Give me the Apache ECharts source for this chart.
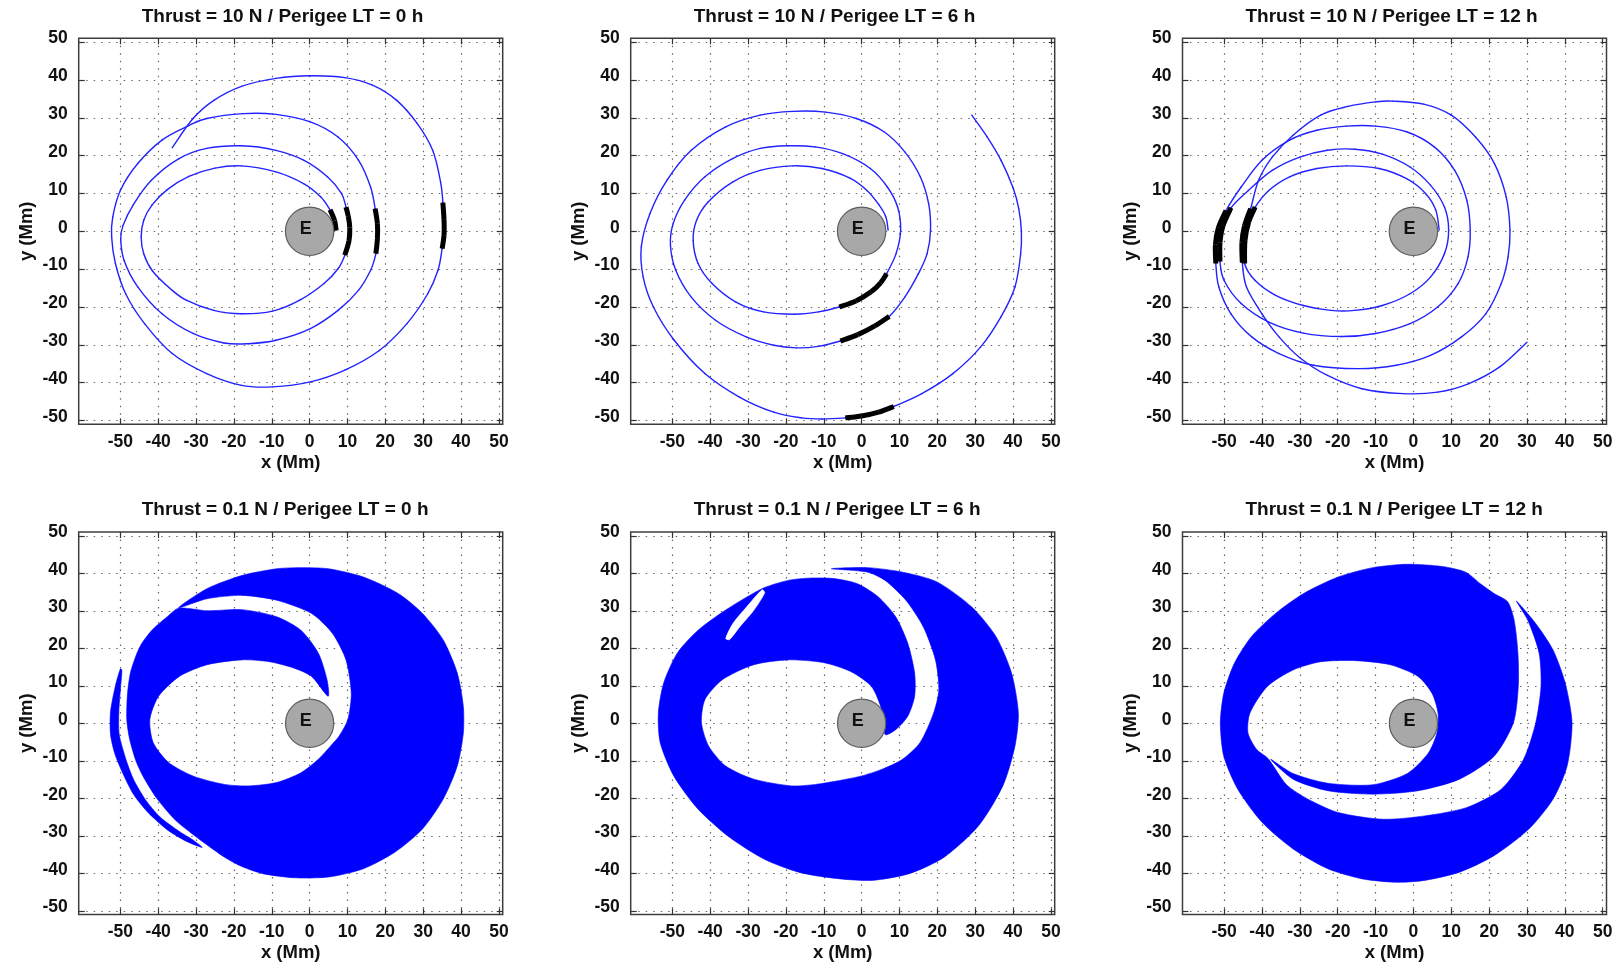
<!DOCTYPE html>
<html>
<head>
<meta charset="utf-8">
<script src="https://cdn.jsdelivr.net/npm/echarts@6/dist/echarts.min.js"></script>
<style>html,body{margin:0;padding:0;background:#fff}#chart{width:1621px;height:968px}</style>
</head>
<body>
<div id="chart"></div>
<script>
// ---------- axes ----------
const xTicks = [-50, -40, -30, -20, -10, 0, 10, 20, 30, 40, 50];
const yTicks = [-50, -40, -30, -20, -10, 0, 10, 20, 30, 40, 50];
const xRange = [-61, 51];
const yRange = [-51, 51];
const earthCenter = [0, 0];
const earthRadius = 6.4;

const titles = [
  'Thrust = 10 N / Perigee LT = 0 h',
  'Thrust = 10 N / Perigee LT = 6 h',
  'Thrust = 10 N / Perigee LT = 12 h',
  'Thrust = 0.1 N / Perigee LT = 0 h',
  'Thrust = 0.1 N / Perigee LT = 6 h',
  'Thrust = 0.1 N / Perigee LT = 12 h'
];

// ---------- 10 N trajectories (Mm) ----------
const traj10_0 = [[5.4,5.7],[2.9,9.1],[-1.6,12.6],[-8.9,15.7],[-18,17.3],[-25,16.7],[-31.9,14.5],[-37.6,11],[-41.6,7],[-43.8,3],[-44.5,-1.5],[-43.8,-6],[-41.5,-10.5],[-37,-15],[-32.6,-18.2],[-25.3,-20.9],[-18,-21.8],[-9.8,-21.1],[-2.6,-18.2],[3.8,-13.8],[7.5,-9.9],[9.3,-6.3],
  [10.4,-2.5],[10.6,1],[10.2,4],[9.6,6.4],
  [8.4,10],[4.7,14.4],[-1.6,18.8],[-8.9,21.4],[-18,22.6],[-27.2,21.9],[-34.5,19.2],[-41.8,13.5],[-46.6,7],[-49.3,1.5],[-49.9,-2],[-49,-7.7],[-45.4,-14.7],[-39,-21.8],[-30.8,-27],[-22.6,-29.5],[-16.2,-29.7],[-8.9,-28.8],[0.2,-25.7],[7.5,-20.9],[12.9,-15.6],[16.1,-10.3],[17.5,-5.9],
  [17.9,-2],[17.9,2],[17.3,6],
  [16.1,11.7],[12.9,18.8],[7.5,24.9],[0.2,28.9],[-8.9,30.9],[-17.6,31.1],[-27.2,29.8],[-32.2,27.8],[-39,24.1],[-45.4,17.9],[-50,10.8],[-52,3.8],[-52.3,-1.5],[-51.3,-8.5],[-48.6,-16.5],[-43.6,-24.4],[-36.3,-32.3],[-27.2,-37.6],[-18,-40.7],[-9.8,-41.1],[0.2,-39.8],[9.3,-36.7],[18.4,-31.5],[25.7,-24.4],[31.2,-16.5],[33.9,-10.3],[35,-4.6],
  [35.5,-1],[35.5,3],[35.2,7.6],
  [34.6,13],[32.5,21.4],[28.4,28.5],[23,34.6],[16.6,38.6],[9.3,40.6],[0.2,41.1],[-8.9,40.4],[-18,38.3],[-25.3,34.6],[-30.8,29.8],[-36.3,22.1]];
const burns10_0 = [
  [[7,0.2],[6.6,2.8],[5.4,5.7]],
  [[9.3,-6.3],[10.4,-2.5],[10.6,1],[10.2,4],[9.6,6.4]],
  [[17.5,-5.9],[17.9,-2],[17.9,2],[17.3,6]],
  [[35,-4.6],[35.5,-1],[35.5,3],[35.2,7.6]]
];

const traj10_6 = [[7,0.3],[6.4,3.8],[4.5,7.1],[1.4,10.8],[-3.2,14.1],[-10.5,16.6],[-18.2,17.3],[-26.8,16.1],[-34.1,13],[-40.5,7.8],[-43.6,2.9],[-44.5,-2.4],[-43.2,-8.5],[-39.5,-13.8],[-33.2,-18.7],[-25.9,-21.3],[-17.7,-21.9],[-11.4,-21.3],[-5.9,-20],
  [-1.5,-18.4],[2.5,-16],[5,-13.6],[6.6,-11.2],
  [9.1,-5.9],[10.3,0.3],[9.5,6.4],[6.8,11.7],[2.3,16.6],[-5,20.5],[-12.3,22.3],[-19.5,22.6],[-26.8,21.9],[-34.1,19.2],[-41.4,14.4],[-46.8,8.2],[-49.8,2],[-50.5,-3.7],[-49.1,-10.3],[-45,-17.4],[-38.6,-23.5],[-30.5,-27.9],[-23.2,-30.1],[-17.3,-30.8],[-11.4,-30.4],[-5.6,-29],
  [-1,-27.3],[3.5,-25],[7.3,-22.5],
  [11.4,-17.4],[15,-11.2],[17.3,-5.9],[18.2,0.3],[17.7,7.3],[15.5,14.4],[11.4,21],[5.9,26.3],[-1.4,29.8],[-9.5,31.5],[-18.2,31.7],[-26.8,30.7],[-35.9,27.6],[-45,21.4],[-51.4,13.5],[-55.9,4.7],[-58.2,-4.1],[-57.7,-12.1],[-55,-20],[-49.5,-28.8],[-41.4,-37.6],[-32.3,-43.8],[-23.2,-47.8],[-15.9,-49.3],[-10.5,-49.6],[-4.3,-49.3],
  [0,-48.8],[4.5,-47.8],[8.5,-46.3],
  [15.9,-42.9],[24.1,-37.6],[31.4,-30.6],[36.8,-22.6],[40.5,-14.7],[42,-6],[42.2,0],[41.5,6],[40,11.5],[36.8,18.8],[33.2,24.9],[29.1,30.7]];
const burns10_6 = [
  [[-5.9,-20],[-1.5,-18.4],[2.5,-16],[5,-13.6],[6.6,-11.2]],
  [[-5.6,-29],[-1,-27.3],[3.5,-25],[7.3,-22.5]],
  [[-4.3,-49.3],[0,-48.8],[4.5,-47.8],[8.5,-46.3]]
];

const traj10_12 = [[6.8,0.3],[5.9,5.6],[3.2,10],[-1.8,13.9],[-9.1,16.6],[-17.7,17.3],[-25.5,16.6],[-32.7,14.4],[-38.2,10.8],[-41.8,6.4],
  [-43.5,2.5],[-44.5,-2.5],[-44.6,-8.5],
  [-41.8,-13],[-36.4,-16.9],[-29.1,-19.6],[-21.8,-20.9],[-15.5,-20.9],[-8.2,-19.6],[-0.9,-16.5],[4.5,-12.1],[8.2,-5.9],[9.3,0.3],[8.2,6.4],[4.5,12.2],[-0.9,17],[-8.2,20.4],[-15.5,21.7],[-22.7,21.4],[-30,19.6],[-37.3,16.1],[-43.6,10.8],[-48.2,6.2],
  [-50.3,1.5],[-51.1,-3],[-51.1,-8],
  [-50,-13],[-45.5,-19.1],[-38.2,-24],[-29.1,-26.9],[-19.1,-27.8],[-10,-27],[-0.9,-24.4],[6.4,-20],[11.8,-13.8],[14.4,-6.8],[15,0.3],[14.1,8.2],[10.9,16.1],[5.5,22.3],[-1.8,26.3],[-10,27.8],[-17.7,27.8],[-25.5,26.7],[-32.7,24.1],[-40,18.8],[-45.5,11.7],[-49.5,5.5],
  [-51.5,1],[-52.3,-3.5],[-52.2,-8.5],
  [-51.4,-14.7],[-48.2,-21.8],[-42.7,-27.9],[-35.5,-32.3],[-26.4,-35.4],[-14.5,-36.3],[-4.5,-35.4],[4.5,-32.8],[12.7,-27.9],[19.1,-21.8],[23.2,-13.8],[25,-6.8],[25.5,0.3],[24.5,9.1],[21.4,17.9],[16.4,24.9],[10,30.7],[2.7,33.6],[-5.5,34.4],[-10,34.2],[-17.3,33],[-24.5,30.7],[-31.8,25.4],[-37.3,19.6],[-40.9,13.5],[-43,6],
  [-44.6,1.5],[-45.3,-3],[-45.2,-8.3],
  [-44.1,-14.7],[-40,-21.8],[-35.5,-27.9],[-30,-33.4],[-22.7,-38.1],[-13.6,-41.6],[-2.7,-42.9],[6.4,-42.5],[14.5,-40.3],[22.7,-35.9],[30,-29.3]];
const burns10_12 = [
  [[-41.8,6.4],[-43.5,2.5],[-44.5,-2.5],[-44.6,-8.5]],
  [[-48.2,6.2],[-50.3,1.5],[-51.1,-3],[-51.1,-8]],
  [[-49.5,5.5],[-51.5,1],[-52.3,-3.5],[-52.2,-8.5]],
  [[-43,6],[-44.6,1.5],[-45.3,-3],[-45.2,-8.3]]
];

// ---------- 0.1 N swept regions (outline points, Mm) ----------
const fill01_0 = [[-34.6,30.8],[-27.1,35.9],[-17.9,39.4],[-8.7,41.2],[-2.3,41.5],[5,41.2],[14.2,39],[23.4,34.6],[29.8,29.3],[35.3,22.2],[39,13.4],[40.6,4.5],[40.6,-2.6],[39,-11.4],[35.3,-20.2],[29.8,-28.2],[22.5,-34.4],[14.2,-38.8],[5,-41],[-4.1,-41.2],[-12.4,-40.1],[-17.9,-38.2],[-22.5,-35.7],[-27,-32.5],[-31,-29.5],[-35.5,-25.8],[-40.4,-20],[-43.8,-14.5],[-45.9,-10],[-47.6,-4],[-48.3,1],[-48.1,8],[-47.2,14],[-44.8,20.5],[-41.5,25],[-37.5,28.5],[-34.6,30.7],
  [-27.1,30],[-17.9,30.3],[-8.7,28.4],[-2.3,24.8],[2.3,18.7],[4.6,11.6],[4.9,7.2],
  [0.5,12.5],[-4.1,14.7],[-10.6,16.4],[-17.9,16.9],[-27.1,15.6],[-34.4,12.5],[-39.9,7.2],[-42.2,1],[-41.3,-5.2],[-37.2,-10.5],[-30.7,-14.1],[-22.5,-16.3],[-16.1,-16.7],[-8.7,-15.8],[-2.3,-13.2],[2.3,-9.6],[5.5,-6.1],
  [7.8,-3.4],[10.1,1],[11,8],[9.6,16.9],[6,24],[0.5,29.3],[-8.7,32.8],[-17.9,34.1],[-27.1,33.2]];
const sliver01_0 = [[-50,14.5],[-51.3,10],[-52.6,3],[-52.6,-3],[-51.5,-8],[-49.5,-13],[-46.5,-19],[-42.5,-24],[-37.5,-28.5],[-32.5,-31.5],[-28.4,-33.1],
  [-31,-31],[-34.5,-28.8],[-39.5,-25],[-43.3,-20.5],[-46.5,-15],[-48.4,-10],[-50.3,-3],[-50.4,3],[-49.9,10],[-49.6,14.2]];

const fill01_6 = [[-8,41.2],[1.6,41.5],[10.8,40.3],[19.9,37.7],[29.1,31],[35.5,23.1],[39.6,13.4],[41.4,2.7],[40.5,-6.1],[37.3,-16.7],[30.9,-27.3],[21.8,-35.7],[12.6,-40.1],[2.6,-41.9],[-7.5,-41.3],[-16.7,-39.7],[-25.8,-36.2],[-34.9,-30.4],[-43.2,-22.9],[-49.6,-14.1],[-53.2,-5.2],[-53.7,2.7],[-52.3,10.7],[-48.7,18.7],[-43.2,24.8],[-35.9,30.2],[-26.3,35.9],[-19.4,38.1],[-13.9,38.7],
  [-7.5,38.6],[-1.1,37.2],[4.4,33.7],[9,28.4],[12.2,21.3],[14,13.4],[14,7.2],[12.2,1.9],[9,-1.7],[6.2,-3],
  [5.3,3.6],[2.6,9.8],[-2.9,13.8],[-10.2,16.2],[-19.4,16.9],[-28.5,15.6],[-36.8,11.6],[-41.4,6.3],[-42.3,0.1],[-40.4,-6.1],[-35.9,-11.4],[-28.5,-14.9],[-18.5,-16.7],[-12.1,-16.3],[-6.6,-15.4],
  [-0.2,-14.1],[5.3,-12.3],[10.8,-9.6],[15.4,-5.2],[19,2.7],[20.4,8.9],[19.5,16.9],[16.3,25.7],[11.7,32.8],[6.2,38.1],[1.6,40.3]];
const gap01_6 = [[-26.3,35.6],[-30.4,31],[-34,26.6],[-35.9,22.6],[-34.9,22.3],[-32.2,25.7],[-28.5,30.1],[-25.6,34.8]];

const fill01_12 = [[27.2,32.6],[32.3,26.6],[36.9,19.5],[40.1,10.7],[41.9,0.1],[40.6,-11.4],[36.9,-20.2],[30.5,-28.2],[21.3,-35.3],[12.2,-39.7],[3,-41.9],[-4.3,-42.4],[-13.5,-41.5],[-22.6,-38.8],[-31.8,-33.5],[-40,-26.4],[-46.4,-17.6],[-50.1,-8.8],[-51,0.1],[-50.1,8],[-47.3,16],[-42.8,23.1],[-36.4,29.3],[-29,34.6],[-19.9,39],[-10.7,41.5],[-1.6,42.4],[7.6,41.8],[13.8,40.3],[17.7,37.2],[21.3,34.6],[24.9,32.4],
  [26.6,27.5],[27.6,18.7],[27.7,9.8],[26.4,0.1],[21.3,-8.8],[12.2,-14.9],[1.2,-18],[-10.7,-18.9],[-22.6,-18],[-31.8,-14.9],[-37.7,-9.6],
  [-31.8,-13.4],[-22.6,-16],[-10.7,-16.4],[-1.6,-13.4],[3.9,-8],[6.2,-2.6],[6.5,2.7],[4.9,8],[1.2,12.5],[-6.1,15.6],[-15.3,16.7],[-24.5,16.4],[-31.8,14.2],[-38.6,9.8],[-43.2,2.7],[-43.7,-2.6],[-41.4,-7],[-38.4,-9.4],
  [-33.6,-16.3],[-28.1,-20.1],[-19.9,-23.8],[-8,-25.6],[3,-24.7],[14,-22.5],[23.2,-17.6],[29.1,-9.6],[32.3,0.1],[33.7,9.8],[33.2,18.7],[30.2,27.5]];

// ---------- layout ----------
const colLeft = [78.7, 630.7, 1182.5];
const boxW = 424;
const rowTop = [38.3, 532];
const boxH = [386, 382.5];
const titleTop = [7.5, 500.5];
const FONT = "'Liberation Sans', Arial, Helvetica, sans-serif";
const BLUE_LINE = '#2222ff';
const BLUE_FILL = '#0000ff';

const lineSets = [
  {traj: traj10_0, burns: burns10_0},
  {traj: traj10_6, burns: burns10_6},
  {traj: traj10_12, burns: burns10_12}
];
const fillSets = [
  [{pts: fill01_0, color: BLUE_FILL}, {pts: sliver01_0, color: BLUE_FILL}],
  [{pts: fill01_6, color: BLUE_FILL}, {pts: gap01_6, color: '#ffffff'}],
  [{pts: fill01_12, color: BLUE_FILL}]
];

// Catmull-Rom curve through the projected points, drawn as bezier pieces
function curveThrough(px, stroke, width, cap) {
  const children = [];
  for (let k = 0; k < px.length - 1; k++) {
    const p0 = px[k - 1] || px[k], p1 = px[k], p2 = px[k + 1], p3 = px[k + 2] || px[k + 1];
    children.push({type: 'bezierCurve', shape: {
      x1: p1[0], y1: p1[1],
      cpx1: p1[0] + (p2[0] - p0[0]) / 6, cpy1: p1[1] + (p2[1] - p0[1]) / 6,
      cpx2: p2[0] - (p3[0] - p1[0]) / 6, cpy2: p2[1] - (p3[1] - p1[1]) / 6,
      x2: p2[0], y2: p2[1]},
      style: {stroke: stroke, lineWidth: width, fill: 'none', lineCap: cap, lineJoin: 'round'}});
  }
  return {type: 'group', children: children};
}

const grids = [], xAxes = [], yAxes = [], series = [], titleOpts = [];
const tickBase = {show: true, inside: true, length: 6, lineStyle: {color: '#333', width: 1.2}};
const labelBase = {fontSize: 17.5, fontWeight: 'bold', color: '#111', fontFamily: FONT};
const nameStyle = {fontSize: 18.5, fontWeight: 'bold', color: '#111', fontFamily: FONT};
const gridLine = {show: true, lineStyle: {color: '#666', width: 1.2, type: [1.5, 6]}};

for (let i = 0; i < 6; i++) {
  const r = Math.floor(i / 3), c = i % 3;
  grids.push({left: colLeft[c], top: rowTop[r], width: boxW, height: boxH[r], show: true,
    borderColor: '#3c3c3c', borderWidth: 1.5, backgroundColor: 'transparent'});
  titleOpts.push({text: titles[i], left: colLeft[c] + 63, top: titleTop[r], padding: 0,
    textStyle: {fontSize: 19, fontWeight: 'bold', color: '#111', fontFamily: FONT}});
  // bottom / top x axes
  xAxes.push({type: 'value', gridIndex: i, min: xRange[0], max: xRange[1], position: 'bottom',
    axisLine: {show: false, onZero: false},
    axisTick: Object.assign({}, tickBase, {customValues: xTicks}),
    axisLabel: Object.assign({}, labelBase, {customValues: xTicks, margin: 9}),
    splitLine: gridLine,
    name: 'x (Mm)', nameLocation: 'middle', nameGap: 29, nameTextStyle: nameStyle});
  xAxes.push({type: 'value', gridIndex: i, min: xRange[0], max: xRange[1], position: 'top',
    axisLine: {show: false, onZero: false},
    axisTick: Object.assign({}, tickBase, {customValues: xTicks}),
    axisLabel: {show: false}, splitLine: {show: false}});
  // left / right y axes
  yAxes.push({type: 'value', gridIndex: i, min: yRange[0], max: yRange[1], position: 'left',
    axisLine: {show: false, onZero: false},
    axisTick: Object.assign({}, tickBase, {customValues: yTicks}),
    axisLabel: Object.assign({}, labelBase, {customValues: yTicks, margin: 11, verticalAlign: 'bottom', lineHeight: 7}),
    splitLine: gridLine,
    name: 'y (Mm)', nameLocation: 'middle', nameGap: 42, nameTextStyle: nameStyle});
  yAxes.push({type: 'value', gridIndex: i, min: yRange[0], max: yRange[1], position: 'right',
    axisLine: {show: false, onZero: false},
    axisTick: Object.assign({}, tickBase, {customValues: yTicks}),
    axisLabel: {show: false}, splitLine: {show: false}});

  const xi = 2 * i, yi = 2 * i;
  if (r === 0) {
    const set = lineSets[c];
    series.push({type: 'custom', xAxisIndex: xi, yAxisIndex: yi, data: [set.traj[0]], silent: true, z: 3,
      renderItem: (params, api) => curveThrough(set.traj.map(p => api.coord(p)), BLUE_LINE, 1.4, 'round')});
    set.burns.forEach(b => series.push({type: 'custom', xAxisIndex: xi, yAxisIndex: yi, data: [b[0]], silent: true, z: 4,
      renderItem: (params, api) => curveThrough(b.map(p => api.coord(p)), '#000', 5, 'butt')}));
  } else {
    fillSets[c].forEach(f => series.push({type: 'custom', xAxisIndex: xi, yAxisIndex: yi,
      data: [f.pts[0]], silent: true, z: 2,
      renderItem: (params, api) => ({type: 'polygon',
        shape: {points: f.pts.map(p => api.coord(p)), smooth: 0.25},
        style: {fill: f.color, stroke: f.color, lineWidth: 0.6}})
    }));
  }
  // Earth
  series.push({type: 'custom', xAxisIndex: xi, yAxisIndex: yi, data: [earthCenter], silent: true, z: 6,
    renderItem: (params, api) => {
      const p = api.coord([api.value(0), api.value(1)]);
      const s = api.size([earthRadius, earthRadius]);
      const rad = (s[0] + s[1]) / 2;
      return {type: 'group', children: [
        {type: 'circle', shape: {cx: p[0], cy: p[1], r: rad}, style: {fill: '#a8a8a8', stroke: '#5e5e5e', lineWidth: 1.2}},
        {type: 'text', x: p[0] - 4, y: p[1] - 2, style: {text: 'E', fill: '#111', font: 'bold 18px ' + FONT,
          align: 'center', verticalAlign: 'middle', textAlign: 'center', textVerticalAlign: 'middle'}}
      ]};
    }});
}

const chart = echarts.init(document.getElementById('chart'), null, {renderer: 'canvas'});
chart.setOption({animation: false, backgroundColor: '#fff', title: titleOpts, grid: grids,
  xAxis: xAxes, yAxis: yAxes, series: series});
</script>
</body>
</html>
